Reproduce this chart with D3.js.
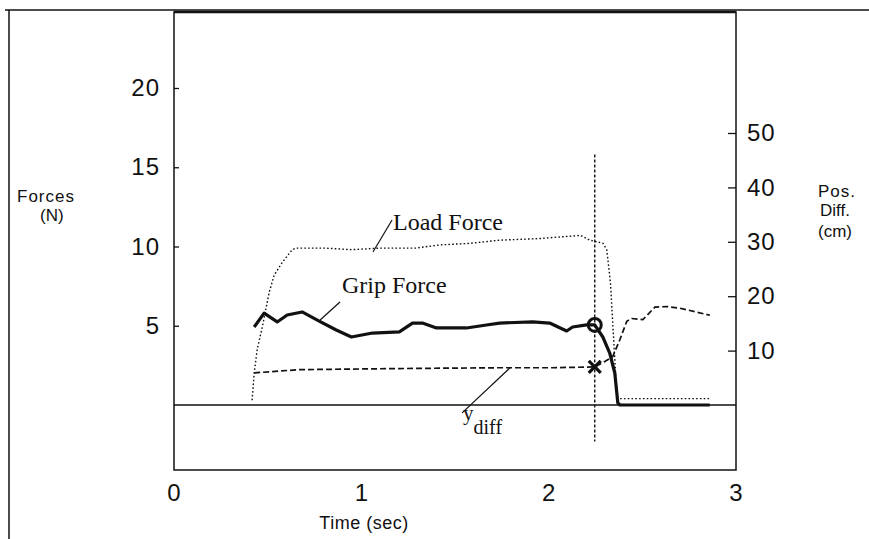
<!DOCTYPE html>
<html>
<head>
<meta charset="utf-8">
<script src="https://cdn.jsdelivr.net/npm/d3@7"></script>
<style>
  html, body { margin: 0; padding: 0; background: #fff; }
  svg { display: block; }
  .tick text { font-family: "Liberation Sans", Arial, sans-serif; font-size: 24px; fill: #111; letter-spacing: 1px; }
  .title { font-family: "Liberation Sans", Arial, sans-serif; font-size: 17px; fill: #111; }
  .note { font-family: "Liberation Serif", "Times New Roman", serif; font-size: 24px; fill: #111; }
</style>
</head>
<body>
<svg id="chart"></svg>
<script>
// load force trace (N), dotted
const loadTime  = [0.417, 0.428, 0.444, 0.471, 0.508, 0.535, 0.578, 0.631, 0.652, 0.80, 0.95, 1.10, 1.29, 1.42, 1.58, 1.74, 1.95, 2.17, 2.22, 2.29, 2.31, 2.33, 2.34, 2.35, 2.36, 2.37, 2.50, 2.70, 2.86];
const loadForce = [0.3, 2.0, 3.5, 4.9, 7.1, 8.2, 9.0, 9.8, 9.9, 9.9, 9.8, 9.9, 9.9, 10.1, 10.2, 10.4, 10.5, 10.7, 10.4, 10.2, 9.8, 7.7, 5.6, 3.5, 1.4, 0.4, 0.4, 0.4, 0.4];

// grip force trace (N), thick solid
const gripTime  = [0.428, 0.481, 0.551, 0.604, 0.684, 0.765, 0.866, 0.947, 1.059, 1.203, 1.273, 1.326, 1.401, 1.561, 1.668, 1.738, 1.914, 2.005, 2.096, 2.128, 2.203, 2.246, 2.289, 2.326, 2.353, 2.369, 2.38, 2.86];
const gripForce = [4.92, 5.8, 5.24, 5.68, 5.87, 5.36, 4.73, 4.29, 4.54, 4.61, 5.17, 5.17, 4.86, 4.86, 5.05, 5.17, 5.24, 5.17, 4.67, 4.92, 5.05, 5.05, 4.29, 3.28, 2.02, 0.13, 0, 0];

// position difference y_diff (cm), dashed, right axis
const diffTime = [0.428, 0.668, 1.203, 1.738, 2.02, 2.246, 2.30, 2.342, 2.38, 2.417, 2.444, 2.503, 2.567, 2.631, 2.70, 2.861];
const posDiff  = [5.9, 6.5, 6.7, 6.85, 6.85, 7.0, 8.0, 8.9, 12.0, 15.4, 15.9, 15.7, 18.0, 18.1, 17.8, 16.5];

// event at slip onset
const eventTime = 2.246;
const eventSpan = [15.8, -2.3];      // N, vertical dotted marker
const eventGrip = 5.05;              // N, circle
const eventDiff = 7.0;               // cm, cross

const timeTicks  = [0, 1, 2, 3];
const forceTicks = [5, 10, 15, 20];
const posTicks   = [10, 20, 30, 40, 50];

const width = 869, height = 539;
const box = { left: 174, right: 736, top: 12, bottom: 470 };

const svg = d3.select("#chart").attr("width", width).attr("height", height);

const x = d3.scaleLinear().domain([0, 3]).range([box.left, box.right]);
const yF = d3.scaleLinear().domain([0, 20]).range([405, 88]);
const yP = d3.scaleLinear().domain([0, 50]).range([405, 133]);

// page frame lines
svg.append("line").attr("x1", 5).attr("x2", width).attr("y1", 10).attr("y2", 10)
  .attr("stroke", "#111").attr("stroke-width", 1.5);
svg.append("line").attr("x1", 9).attr("x2", 9).attr("y1", 10).attr("y2", height)
  .attr("stroke", "#111").attr("stroke-width", 1.5);

// plot box
svg.append("rect")
  .attr("x", box.left).attr("y", box.top)
  .attr("width", box.right - box.left).attr("height", box.bottom - box.top)
  .attr("fill", "none").attr("stroke", "#111").attr("stroke-width", 1.5);
svg.append("line").attr("x1", box.left).attr("x2", box.right).attr("y1", box.top).attr("y2", box.top)
  .attr("stroke", "#111").attr("stroke-width", 2.5);

// zero line
svg.append("line")
  .attr("x1", box.left).attr("x2", box.right)
  .attr("y1", yF(0)).attr("y2", yF(0))
  .attr("stroke", "#111").attr("stroke-width", 1.3);

// axes
const axL = svg.append("g").attr("transform", `translate(${box.left},0)`)
  .call(d3.axisLeft(yF).tickValues(forceTicks).tickSize(-5).tickPadding(14));
const axR = svg.append("g").attr("transform", `translate(${box.right},0)`)
  .call(d3.axisRight(yP).tickValues(posTicks).tickSize(-8).tickPadding(11));
const axB = svg.append("g").attr("transform", `translate(0,${box.bottom})`)
  .call(d3.axisBottom(x).tickValues(timeTicks).tickSize(0).tickPadding(14).tickFormat(d3.format("d")));
[axL, axR, axB].forEach(a => {
  a.select(".domain").remove();
  a.selectAll(".tick line").attr("stroke", "#111").attr("stroke-width", 1.3);
});

// axis titles
svg.append("text").attr("class", "title").attr("x", 17).attr("y", 202).style("letter-spacing", "1px").text("Forces");
svg.append("text").attr("class", "title").attr("x", 40).attr("y", 221).text("(N)");
svg.append("text").attr("class", "title").attr("x", 818).attr("y", 197).style("letter-spacing", "1px").text("Pos.");
svg.append("text").attr("class", "title").attr("x", 820).attr("y", 216).text("Diff.");
svg.append("text").attr("class", "title").attr("x", 818).attr("y", 237).text("(cm)");
svg.append("text").attr("class", "title").attr("x", 364).attr("y", 529)
  .attr("text-anchor", "middle").style("font-size", "18px").style("letter-spacing", "0.5px").text("Time (sec)");

// traces
const lineF = d3.line().x(d => x(d[0])).y(d => yF(d[1]));
const lineP = d3.line().x(d => x(d[0])).y(d => yP(d[1]));

svg.append("path")
  .datum(d3.zip(loadTime, loadForce))
  .attr("d", lineF)
  .attr("fill", "none").attr("stroke", "#111").attr("stroke-width", 1.4)
  .attr("stroke-dasharray", "1.6,2.2");

svg.append("path")
  .datum(d3.zip(diffTime, posDiff))
  .attr("d", lineP)
  .attr("fill", "none").attr("stroke", "#111").attr("stroke-width", 1.7)
  .attr("stroke-dasharray", "6,3");

svg.append("path")
  .datum(d3.zip(gripTime, gripForce))
  .attr("d", lineF)
  .attr("fill", "none").attr("stroke", "#111").attr("stroke-width", 3.2)
  .attr("stroke-linejoin", "round");

// slip onset marker
svg.append("line")
  .attr("x1", x(eventTime)).attr("x2", x(eventTime))
  .attr("y1", yF(eventSpan[0])).attr("y2", yF(eventSpan[1]))
  .attr("stroke", "#111").attr("stroke-width", 1.4).attr("stroke-dasharray", "3,2");

svg.append("circle")
  .attr("cx", x(eventTime)).attr("cy", yF(eventGrip)).attr("r", 6.5)
  .attr("fill", "none").attr("stroke", "#111").attr("stroke-width", 3);

const cx = x(eventTime), cy = yP(eventDiff), s = 6;
svg.append("path")
  .attr("d", `M${cx - s},${cy - s}L${cx + s},${cy + s}M${cx - s},${cy + s}L${cx + s},${cy - s}`)
  .attr("stroke", "#111").attr("stroke-width", 3.2);

// trace labels with leader lines
svg.append("text").attr("class", "note").attr("x", x(1.169)).attr("y", yF(11.04)).text("Load Force");
svg.append("line")
  .attr("x1", x(1.164)).attr("y1", yF(11.67)).attr("x2", x(1.062)).attr("y2", yF(9.65))
  .attr("stroke", "#111").attr("stroke-width", 1.2);

svg.append("text").attr("class", "note").attr("x", x(0.897)).attr("y", yF(7.07)).text("Grip Force");
svg.append("line")
  .attr("x1", x(0.886)).attr("y1", yF(6.5)).attr("x2", x(0.78)).attr("y2", yF(5.36))
  .attr("stroke", "#111").attr("stroke-width", 1.2);

const yd = svg.append("text").attr("class", "note").attr("x", x(1.543)).attr("y", yF(-0.95)).style("font-size", "21px");
yd.append("tspan").text("y");
yd.append("tspan").attr("dy", 14).style("font-size", "20px").text("diff");
svg.append("line")
  .attr("x1", x(1.538)).attr("y1", yF(-0.5)).attr("x2", x(1.794)).attr("y2", yP(6.85))
  .attr("stroke", "#111").attr("stroke-width", 1.2);
</script>
</body>
</html>
